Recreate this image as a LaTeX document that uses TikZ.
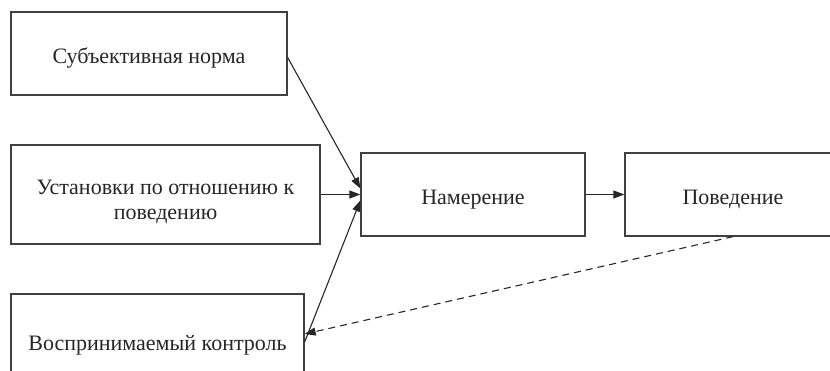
\documentclass[tikz,border=0pt]{standalone}
\usepackage{fontspec}
\setmainfont{Liberation Serif}
\usetikzlibrary{arrows.meta}

\tikzset{
  factor/.style={draw=black!75, line width=1.3pt, fill=white, align=center,
    font=\fontsize{22}{25}\selectfont, text=black!85,
    text height=25pt, text depth=5pt},
  link/.style={draw=black!85, line width=1.1pt, -{Triangle[length=11pt,width=8pt]}},
}

\begin{document}
\begin{tikzpicture}[x=1pt, y=-1pt]

  \clip (0,0) rectangle (830,371);

  % predictors
  \node[factor, minimum width=276pt, minimum height=83pt] (norm) at (149,53.5)
    {Субъективная норма};
  \node[factor, minimum width=309pt, minimum height=99pt, text height=56pt] (attitude) at (165.5,194.5)
    {Установки по отношению к\\поведению};
  \node[factor, minimum width=293pt, minimum height=92pt] (control) at (157.5,340)
    {Воспринимаемый контроль};

  % intention and behaviour
  \node[factor, minimum width=224pt, minimum height=83pt] (intention) at (473,194.5)
    {Намерение};
  \node[factor, minimum width=216pt, minimum height=83pt] (behaviour) at (733,194.5)
    {Поведение};

  % arrows into intention
  \draw[link] ([yshift=-4pt]norm.east) to ([yshift=6pt]intention.west);
  \draw[link] (attitude.east) to (intention.west);
  \draw[link] ([yshift=-2pt]control.east) to ([yshift=-6pt]intention.west);
  \draw[link] (intention.east) to (behaviour.west);

  % feedback
  \draw[link, dash pattern=on 7pt off 5pt] (behaviour.south) to ([yshift=6pt]control.east);

\end{tikzpicture}
\end{document}
